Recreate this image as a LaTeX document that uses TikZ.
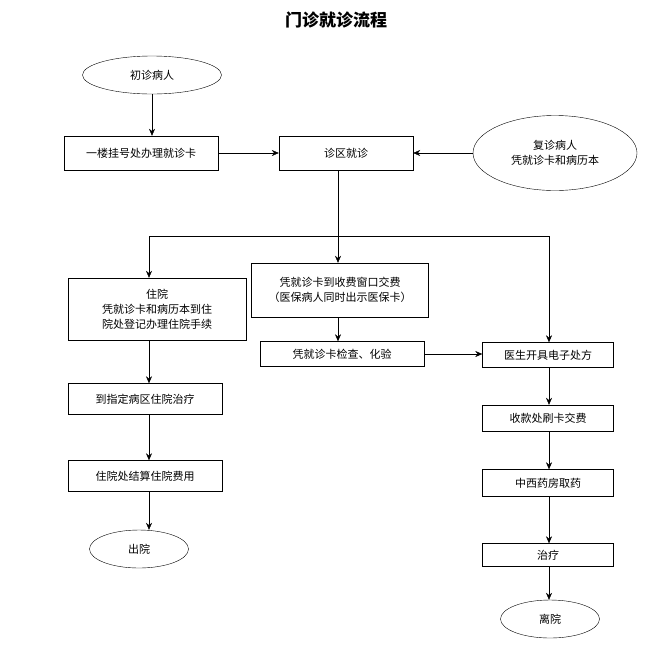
\documentclass[tikz,border=0pt]{standalone}
\usepackage{fontspec}
\newfontfamily\cjk{Noto Sans CJK SC}
\usetikzlibrary{arrows.meta,shapes.geometric}
\begin{document}
\begin{tikzpicture}[x=1pt,y=-1pt,font=\cjk\fontsize{11}{15}\selectfont]
\tikzstyle{kuang} = [draw, inner sep=1pt, align=center];
\tikzstyle{tuoyuan} = [draw, ellipse, inner sep=0pt, align=center];
\tikzstyle{jt} = [-{Stealth[length=7pt,width=6pt]}];
\useasboundingbox (0,0) rectangle (671,654);
\node[font=\cjk\bfseries\fontsize{17}{20}\selectfont] (title) at (336,20) {门诊就诊流程};
\node[tuoyuan, minimum width=139, minimum height=38] (chuzhen) at (152,75) {初诊病人};
\node[kuang, minimum width=154, minimum height=34] (guahao) at (141,153) {一楼挂号处办理就诊卡};
\node[kuang, minimum width=134, minimum height=34] (zhenqu) at (346,153) {诊区就诊};
\node[tuoyuan, minimum width=164, minimum height=75] (fuzhen) at (555,153) {复诊病人\\凭就诊卡和病历本};
\node[kuang, minimum width=178, minimum height=62] (zhuyuan) at (157,309) {住院\\凭就诊卡和病历本到住\\院处登记办理住院手续};
\node[kuang, minimum width=177, minimum height=54] (jiaofei) at (340,290) {凭就诊卡到收费窗口交费\\（医保病人同时出示医保卡）};
\node[kuang, minimum width=164, minimum height=25] (jiancha) at (342,354) {凭就诊卡检查、化验};
\node[kuang, minimum width=154, minimum height=31] (bingqu) at (145,399) {到指定病区住院治疗};
\node[kuang, minimum width=154, minimum height=31] (jiesuan) at (145,476) {住院处结算住院费用};
\node[tuoyuan, minimum width=99, minimum height=38] (chuyuan) at (139,549) {出院};
\node[kuang, minimum width=131, minimum height=25] (chufang) at (548,355) {医生开具电子处方};
\node[kuang, minimum width=131, minimum height=26] (shuaka) at (548,418) {收款处刷卡交费};
\node[kuang, minimum width=131, minimum height=27] (quyao) at (548,483) {中西药房取药};
\node[kuang, minimum width=131, minimum height=23] (zhiliao) at (548,555) {治疗};
\node[tuoyuan, minimum width=99, minimum height=38] (liyuan) at (550,619) {离院};
\coordinate (fen) at (338,236);
\coordinate (zuo) at (149,236);
\coordinate (you) at (549,236);
\draw[jt] (chuzhen) -- (guahao.north -| chuzhen);
\draw[jt] (guahao) -- (zhenqu);
\draw[jt] (fuzhen) -- (zhenqu);
\draw (zhenqu.south -| fen) -- (fen);
\draw (zuo) -- (you);
\draw[jt] (zuo) -- (zhuyuan.north -| zuo);
\draw[jt] (fen) -- (jiaofei.north -| fen);
\draw[jt] (you) -- (chufang.north -| you);
\draw[jt] (jiaofei.south -| fen) -- (jiancha.north -| fen);
\draw[jt] (jiancha) -- (chufang.west |- jiancha);
\draw[jt] (zhuyuan.south -| zuo) -- (bingqu.north -| zuo);
\draw[jt] (bingqu.south -| zuo) -- (jiesuan.north -| zuo);
\draw[jt] (jiesuan.south -| zuo) -- (chuyuan.north -| zuo);
\draw[jt] (chufang.south -| you) -- (shuaka.north -| you);
\draw[jt] (shuaka.south -| you) -- (quyao.north -| you);
\draw[jt] (quyao.south -| you) -- (zhiliao.north -| you);
\draw[jt] (zhiliao.south -| you) -- (liyuan.north -| you);
\end{tikzpicture}
\end{document}
